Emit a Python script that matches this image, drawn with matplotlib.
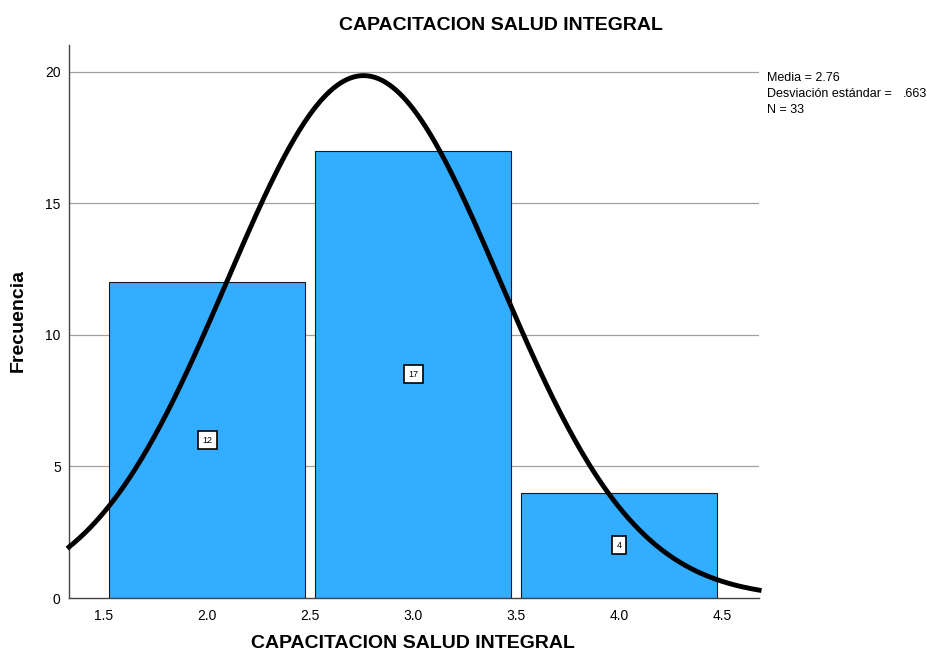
import numpy as np
import matplotlib.pyplot as plt

plt.rcParams['font.family'] = ['Liberation Sans', 'DejaVu Sans']

# histogram data
bin_centers = [2.0, 3.0, 4.0]
counts = [12, 17, 4]
bar_width = 0.95
x_ticks = [1.5, 2.0, 2.5, 3.0, 3.5, 4.0, 4.5]
y_ticks = [0, 5, 10, 15, 20]

mean = 2.76
std = 0.663
n = 33

fig = plt.figure(figsize=(9.28, 6.61), dpi=100)
ax = fig.add_axes([0.0744, 0.0953, 0.7436, 0.837])

ax.set_xlim(1.33, 4.68)
ax.set_ylim(0, 21.03)

for y in y_ticks[1:]:
    ax.axhline(y, color='#a0a0a0', lw=0.9, zorder=0)

ax.bar(bin_centers, counts, width=bar_width, color='#33adff',
       edgecolor='#1a1a1a', lw=0.8, zorder=2)

for xc, c in zip(bin_centers, counts):
    ax.text(xc, c / 2, str(c), ha='center', va='center', fontsize=6.5,
            zorder=4,
            bbox=dict(boxstyle='square,pad=0.5', fc='white', ec='black', lw=1.2))

# normal curve scaled to counts (bin width 1)
xs = np.linspace(1.33, 4.68, 400)
ys = n * 1.0 / (std * np.sqrt(2 * np.pi)) * np.exp(-0.5 * ((xs - mean) / std) ** 2)
ax.plot(xs, ys, color='black', lw=3.5, zorder=3, clip_on=False)

ax.set_xticks(x_ticks)
ax.set_xticklabels([f'{t:.1f}' for t in x_ticks])
ax.set_yticks(y_ticks)
ax.tick_params(length=0, labelsize=10, pad=8)
ax.tick_params(axis='y', pad=6)

for s in ['top', 'right']:
    ax.spines[s].set_visible(False)
for s in ['left', 'bottom']:
    ax.spines[s].set_color('#444444')
    ax.spines[s].set_linewidth(1.0)

fig.text(0.54, 0.962, 'CAPACITACION SALUD INTEGRAL', ha='center', va='center',
         fontsize=14, fontweight='bold')
fig.text(0.445, 0.014, 'CAPACITACION SALUD INTEGRAL', ha='center', va='bottom',
         fontsize=14, fontweight='bold')
fig.text(0.02, 0.515, 'Frecuencia', rotation=90, ha='center', va='center',
         fontsize=14, fontweight='bold')

fig.text(0.826, 0.882, 'Media = 2.76', fontsize=9, va='center')
fig.text(0.826, 0.858, 'Desviación estándar =', fontsize=9, va='center')
fig.text(0.973, 0.858, '.663', fontsize=9, va='center')
fig.text(0.826, 0.834, 'N = 33', fontsize=9, va='center')

fig.savefig('out.png', dpi=100)
